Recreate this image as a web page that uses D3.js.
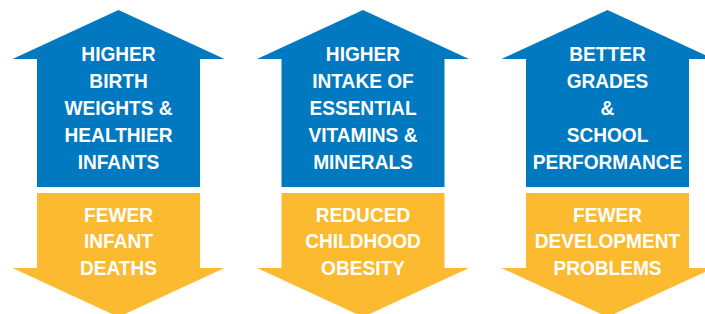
<!DOCTYPE html>
<html><head><meta charset="utf-8">
<script src="https://cdn.jsdelivr.net/npm/d3@7"></script>
<style>html,body{margin:0;padding:0;background:#fff;overflow:hidden}</style>
</head><body>
<script>
const categories = ["Birth", "Nutrition", "School"];
const upLabels = [
  ["HIGHER", "BIRTH", "WEIGHTS &", "HEALTHIER", "INFANTS"],
  ["HIGHER", "INTAKE OF", "ESSENTIAL", "VITAMINS &", "MINERALS"],
  ["BETTER", "GRADES", "&", "SCHOOL", "PERFORMANCE"]
];
const downLabels = [
  ["FEWER", "INFANT", "DEATHS"],
  ["REDUCED", "CHILDHOOD", "OBESITY"],
  ["FEWER", "DEVELOPMENT", "PROBLEMS"]
];

const W = 705, H = 314;
const svg = d3.select("body").append("svg").attr("width", W).attr("height", H);

const x = d3.scalePoint().domain(categories).range([118.5, 607.5]);
const shaftHalf = 81.5, wingHalf = 106;
const BLUE = "#0079C1", YELLOW = "#FBBA30";
const font = "'Liberation Sans', Arial, sans-serif";
const sx = 0.91;

categories.forEach((c, i) => {
  const cx = x(c);
  const g = svg.append("g");
  const up = d3.path();
  up.moveTo(cx, 10);
  up.lineTo(cx + wingHalf, 59);
  up.lineTo(cx + shaftHalf, 59);
  up.lineTo(cx + shaftHalf, 187);
  up.lineTo(cx - shaftHalf, 187);
  up.lineTo(cx - shaftHalf, 59);
  up.lineTo(cx - wingHalf, 59);
  up.closePath();
  g.append("path").attr("d", up.toString()).attr("fill", BLUE);
  const dn = d3.path();
  dn.moveTo(cx - shaftHalf, 193);
  dn.lineTo(cx + shaftHalf, 193);
  dn.lineTo(cx + shaftHalf, 268);
  dn.lineTo(cx + wingHalf, 268);
  dn.lineTo(cx, 317);
  dn.lineTo(cx - wingHalf, 268);
  dn.lineTo(cx - shaftHalf, 268);
  dn.closePath();
  g.append("path").attr("d", dn.toString()).attr("fill", YELLOW);

  const tg = g.append("g").attr("transform", `translate(${cx},0) scale(${sx},1)`);
  upLabels[i].forEach((t, j) => {
    tg.append("text").attr("x", 0).attr("y", 61 + j * 27)
      .attr("text-anchor", "middle").attr("fill", "#fff")
      .attr("font-family", font).attr("font-weight", "bold").attr("font-size", 21)
      .text(t);
  });
  downLabels[i].forEach((t, j) => {
    tg.append("text").attr("x", 0).attr("y", 222 + j * 26.5)
      .attr("text-anchor", "middle").attr("fill", "#fff")
      .attr("font-family", font).attr("font-weight", "bold").attr("font-size", 21)
      .text(t);
  });
});
</script>
</body></html>
